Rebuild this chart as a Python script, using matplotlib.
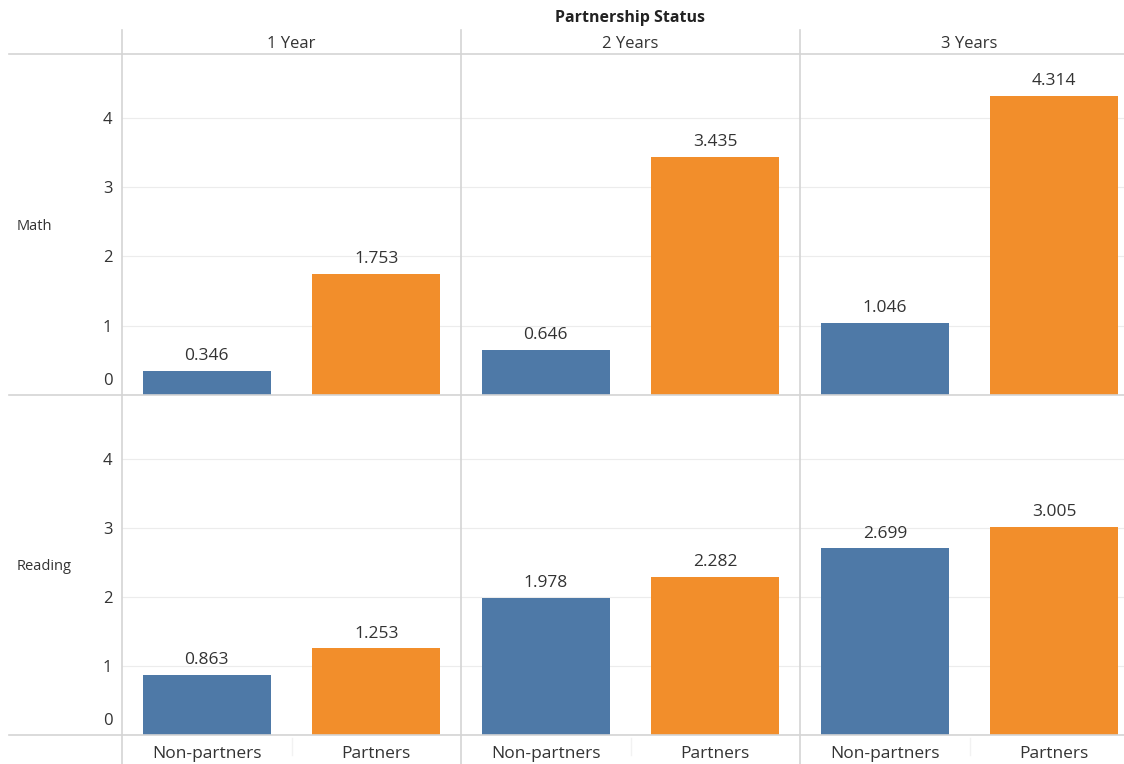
import matplotlib
matplotlib.use("Agg")
import matplotlib.pyplot as plt
from matplotlib.lines import Line2D

plt.rcParams['font.family'] = ['Open Sans', 'DejaVu Sans']

periods = ["1 Year", "2 Years", "3 Years"]
groups = ["Non-partners", "Partners"]
subjects = ["Math", "Reading"]
math_values = {"Non-partners": [0.346, 0.646, 1.046], "Partners": [1.753, 3.435, 4.314]}
reading_values = {"Non-partners": [0.863, 1.978, 2.699], "Partners": [1.253, 2.282, 3.005]}
colors = {"Non-partners": "#4e79a7", "Partners": "#f28e2b"}
yticks = [0, 1, 2, 3, 4]

W, H = 1124, 764
fig = plt.figure(figsize=(W / 100, H / 100), dpi=100)

def px(x0, y0, x1, y1):
    return [x0 / W, 1 - y1 / H, (x1 - x0) / W, (y1 - y0) / H]

col_x = [122, 461, 800, 1139]
row_y = [54, 395, 735]
grid_c = "#ececec"
line_c = "#d4d4d4"
text_c = "#333333"
ymax = 4.92

for r, subj in enumerate(subjects):
    vals = math_values if r == 0 else reading_values
    for c, per in enumerate(periods):
        ax = fig.add_axes(px(col_x[c], row_y[r], col_x[c + 1], row_y[r + 1]))
        ax.set_xlim(-0.5, 1.5)
        ax.set_ylim(0, ymax)
        for s in ax.spines.values():
            s.set_visible(False)
        for t in yticks:
            ax.axhline(t, color=grid_c, lw=0.8, zorder=0)
        for i, g in enumerate(groups):
            v = vals[g][c]
            ax.bar(i, v, width=0.755, color=colors[g], zorder=2)
            ax.text(i, v + 0.1, f"{v:.3f}", ha="center", va="bottom", fontsize=12.5, color=text_c)
        ax.set_xticks([])
        if c == 0:
            ax.set_yticks(yticks[1:])
            ax.set_yticklabels([str(t) for t in yticks[1:]], fontsize=12, color=text_c)
            ax.tick_params(axis="y", length=0, pad=7)
            ax.annotate(str(yticks[0]), xy=(0, yticks[0]), xycoords=("axes fraction", "data"),
                        xytext=(-7, 10), textcoords="offset points",
                        ha="right", va="center", fontsize=12, color=text_c)
        else:
            ax.set_yticks([])

# Row labels
fig.text(17 / W, 1 - 226 / H, "Math", fontsize=10.5, color=text_c, va="center", ha="left")
fig.text(17 / W, 1 - 566 / H, "Reading", fontsize=10.5, color=text_c, va="center", ha="left")

# Header labels
fig.text(630 / W, 1 - 18 / H, "Partnership Status", fontsize=11.5, fontweight="bold", color="#222222", ha="center", va="center")
for c, per in enumerate(periods):
    xc = (col_x[c] + col_x[c + 1]) / 2
    fig.text(xc / W, 1 - 44 / H, per, fontsize=12, color=text_c, ha="center", va="center")
    for i, g in enumerate(groups):
        xg = col_x[c] + (i + 0.5) * (col_x[c + 1] - col_x[c]) / 2
        fig.text(xg / W, 1 - 754 / H, g, fontsize=12.5, color=text_c, ha="center", va="center")

# Divider lines
for x in col_x[:3]:
    fig.add_artist(Line2D([x / W, x / W], [1 - 30 / H, 0], color=line_c, lw=1.2))
for y in [54, 395, 735]:
    fig.add_artist(Line2D([9 / W, 1], [1 - y / H, 1 - y / H], color=line_c, lw=1.2))
for c in range(3):
    xm = (col_x[c] + col_x[c + 1]) / 2
    fig.add_artist(Line2D([xm / W, xm / W], [1 - 738 / H, 1 - 755 / H], color="#f2f2f2", lw=1))

fig.savefig("out.png", dpi=100, facecolor="white")
